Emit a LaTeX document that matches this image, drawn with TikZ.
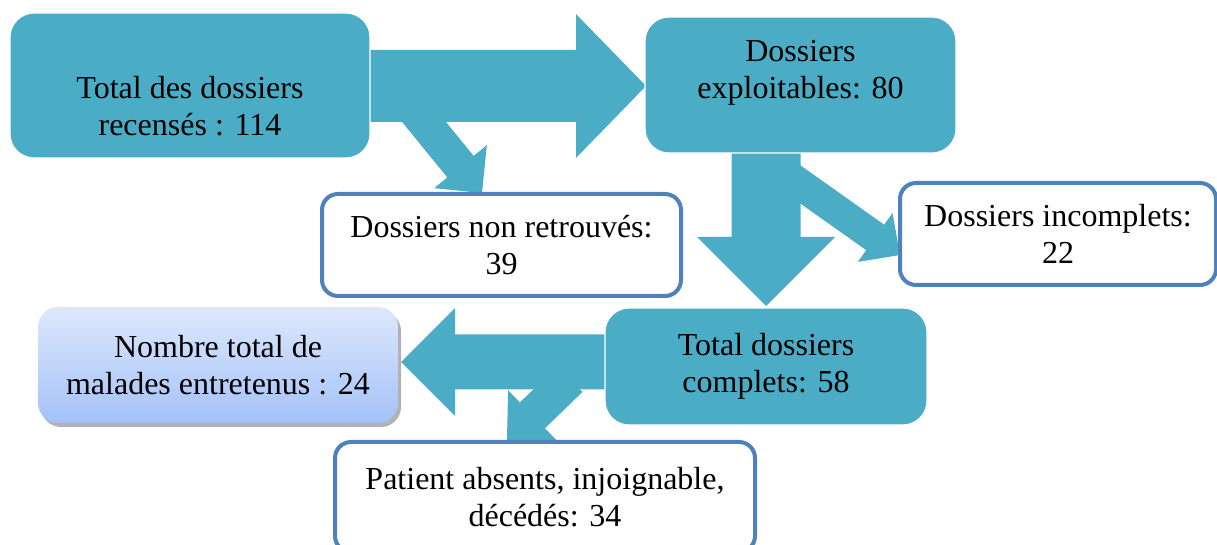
\documentclass[tikz,border=0pt]{standalone}
\usepackage{fontspec}
\setmainfont{Liberation Serif}
\usetikzlibrary{calc,shadows}
\definecolor{sateal}{HTML}{4BACC6}
\definecolor{saborder}{HTML}{4F81BD}
\definecolor{satop}{HTML}{DDE8FB}
\definecolor{sabot}{HTML}{A4C2F9}
\tikzset{
	tealbox/.style={draw=white,line width=.6pt,fill=sateal,rounded corners=12pt,inner sep=0pt},
	linebox/.style={draw=saborder,line width=2pt,fill=white,rounded corners=8pt,align=center,inner sep=0pt},
	gradbox/.style={rounded corners=10pt,top color=satop,bottom color=sabot,align=center,inner sep=0pt,
		drop shadow={shadow xshift=1.5pt,shadow yshift=-2pt,fill=black,opacity=.3}},
	txt/.style={align=center,inner sep=0pt}
}
% block arrow: start, tip, half shaft, half head, head length
\newcommand{\flowarrow}[5]{%
	\coordinate (fa-h) at ($(#2)!#5!(#1)$);
	\fill[sateal] ($(#1)!#3!90:(#2)$) -- ($(fa-h)!#3!90:(#2)$) -- ($(fa-h)!#4!90:(#2)$) -- (#2)
		-- ($(fa-h)!#4!-90:(#2)$) -- ($(fa-h)!#3!-90:(#2)$) -- ($(#1)!#3!-90:(#2)$) -- cycle;
}
\begin{document}
\begin{tikzpicture}[x=.5pt,y=-.5pt,font=\fontsize{16}{18.4}\selectfont]
	\useasboundingbox (0,0) rectangle (1217,545);
	\clip (0,0) rectangle (1217,545);
	\coordinate (b1) at (402,95);  \coordinate (b2) at (482,193);
	\coordinate (d1) at (780,170); \coordinate (d2) at (900,255);
	\coordinate (f1) at (570,379); \coordinate (f2) at (507,440);
	\coordinate (a1) at (370,86);  \coordinate (a2) at (646,86);
	\coordinate (c1) at (766,150); \coordinate (c2) at (766,306);
	\coordinate (e1) at (605,362); \coordinate (e2) at (401,362);
	\flowarrow{b1}{b2}{8.5pt}{17pt}{17pt}
	\flowarrow{d1}{d2}{7.8pt}{15pt}{15.2pt}
	\flowarrow{f1}{f2}{9pt}{17.5pt}{17.7pt}
	\flowarrow{a1}{a2}{18pt}{36pt}{35pt}
	\flowarrow{c1}{c2}{17.25pt}{34.5pt}{34.5pt}
	\flowarrow{e1}{e2}{13.75pt}{27pt}{27pt}
	\node[tealbox,minimum width=180pt,minimum height=72.5pt] (total) at (190,85.5) {};
	\node[txt] (totaltxt) at (190,106) {Total des dossiers\\recensés : 114};
	\node[tealbox,minimum width=155.5pt,minimum height=68pt] (exploit) at (800.5,85) {};
	\node[txt] (exploittxt) at (800.5,73) {Dossiers\\exploitables: 80};
	\node[linebox,minimum width=179.5pt,minimum height=51pt] (nonret) at (501.5,245) {Dossiers non retrouvés:\\39};
	\node[linebox,minimum width=158pt,minimum height=51pt] (incomp) at (1058,234) {Dossiers incomplets:\\22};
	\node[tealbox,align=center,minimum width=161pt,minimum height=58.5pt] (complets) at (766,366.5) {Total dossiers\\complets: 58};
	\node[gradbox,minimum width=180pt,minimum height=58pt] (malades) at (218,365) {Nombre total de\\malades entretenus : 24};
	\node[linebox,minimum width=210pt,minimum height=55pt] (patients) at (545,497) {Patient absents, injoignable,\\décédés: 34};
\end{tikzpicture}
\end{document}
